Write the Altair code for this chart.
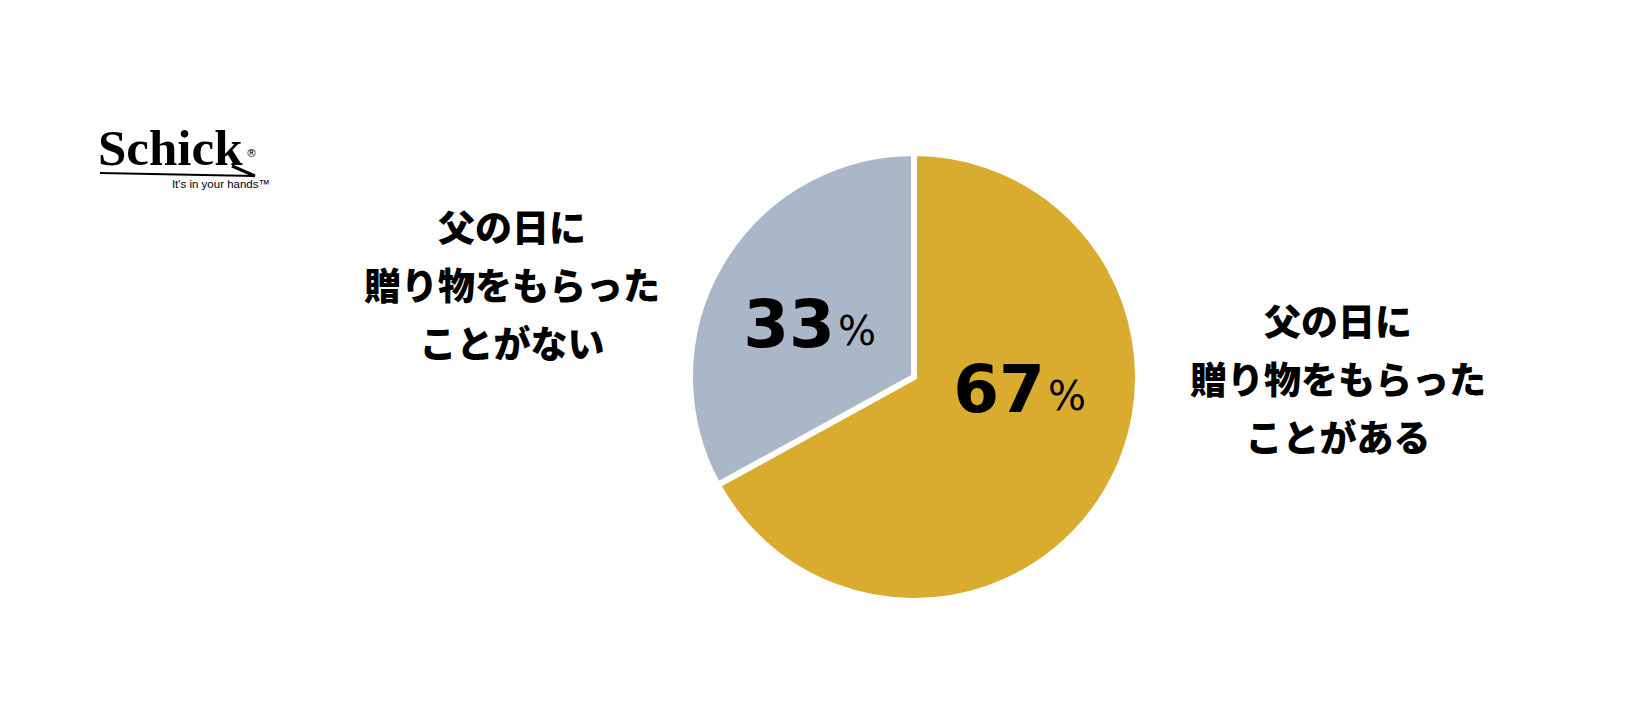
import altair as alt
import pandas as pd

# ---- data ----
categories = ["父の日に\n贈り物をもらった\nことがある", "父の日に\n贈り物をもらった\nことがない"]
values = [67, 33]
pct_labels = ["67", "33"]
colors = ["#D9AC2F", "#A9B7C9"]

# ---- layout (chart pixel coordinates) ----
W, H = 1635, 688
CX, CY, R = 906, 369, 224
num_right_x = [1037, 827]
num_base_y = [404, 339]
cat_x = [1330, 504]
cat_y = [317, 223]

df = pd.DataFrame({
    "category": categories,
    "value": values,
    "pct": pct_labels,
    "ord": [0, 1],
    "nx": num_right_x,
    "ny": num_base_y,
    "px": [x + 3 for x in num_right_x],
    "py": [y - 2 for y in num_base_y],
    "cx": cat_x,
    "cy": cat_y,
})

color = alt.Color("category:N", scale=alt.Scale(domain=categories, range=colors), legend=None)

arc = alt.Chart(df).mark_arc(outerRadius=R, stroke="white", strokeWidth=6).encode(
    theta=alt.Theta("value:Q", stack=True),
    color=color,
    order=alt.Order("ord:Q"),
    x=alt.value(CX),
    y=alt.value(CY),
)

nums = alt.Chart(df).mark_text(
    font="DejaVu Sans", fontWeight="bold", fontSize=66, align="right",
    baseline="alphabetic", color="black"
).encode(
    x=alt.X("nx:Q", scale=None), y=alt.Y("ny:Q", scale=None), text="pct:N"
)

pcts = alt.Chart(df).mark_text(
    font="DejaVu Sans", fontSize=40, align="left",
    baseline="alphabetic", color="black"
).encode(
    x=alt.X("px:Q", scale=None), y=alt.Y("py:Q", scale=None), text=alt.value("%")
)

cats = alt.Chart(df).mark_text(
    font="Noto Sans CJK JP", fontWeight=900, fontSize=37, align="center",
    baseline="middle", lineBreak="\n", lineHeight=58, color="black"
).encode(
    x=alt.X("cx:Q", scale=None), y=alt.Y("cy:Q", scale=None), text="category:N"
)

logo_df = pd.DataFrame({"a": [0]})
logo = alt.Chart(logo_df).mark_text(
    font="Liberation Serif", fontWeight="bold", fontSize=51, align="left",
    baseline="alphabetic", color="black"
).encode(x=alt.value(90), y=alt.value(157), text=alt.value("Schick"))
reg = alt.Chart(logo_df).mark_text(
    font="DejaVu Sans", fontSize=11, align="left", baseline="alphabetic", color="black"
).encode(x=alt.value(238), y=alt.value(149), text=alt.value("®"))
tag = alt.Chart(logo_df).mark_text(
    font="Liberation Sans", fontSize=11.5, align="right", baseline="alphabetic", color="black"
).encode(x=alt.value(262), y=alt.value(180), text=alt.value("It's in your hands™"))
swoosh = alt.Chart(logo_df).mark_rule(color="black", strokeWidth=1.8).encode(
    x=alt.value(92), x2=alt.value(247), y=alt.value(165), y2=alt.value(168)
)
wedge = alt.Chart(logo_df).mark_rule(color="black", strokeWidth=3).encode(
    x=alt.value(224), x2=alt.value(247), y=alt.value(158), y2=alt.value(168)
)

chart = alt.layer(arc, nums, pcts, cats, logo, reg, tag, swoosh, wedge).properties(
    width=W, height=H, autosize=alt.AutoSizeParams(type="none"), padding=0,
    background="white"
).configure_view(stroke=None)

chart.save("out.html", embed_options={"renderer": "svg", "actions": False})
